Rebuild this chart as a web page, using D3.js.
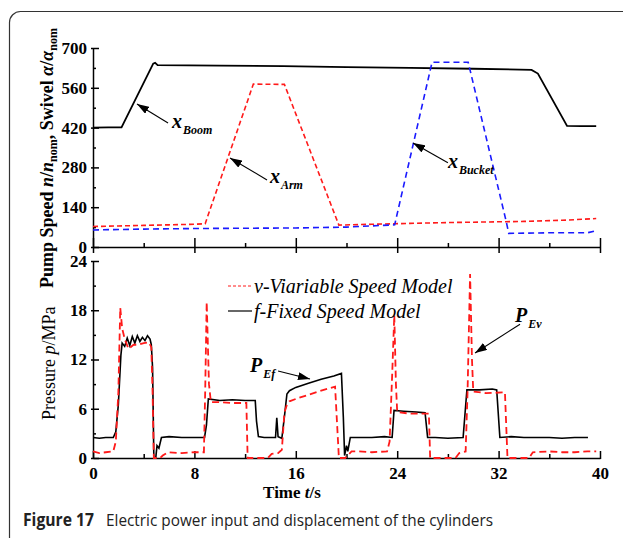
<!DOCTYPE html>
<html>
<head>
<meta charset="utf-8">
<script src="https://cdn.jsdelivr.net/npm/d3@7"></script>
<style>
  html, body { margin: 0; padding: 0; background: #fff; }
  svg { display: block; }
</style>
</head>
<body>
<svg id="chart" width="623" height="538"></svg>
<script>
// Top panel: cylinder displacements / swivel angle (time s, value)
const boomSeries = [[0,420],[1.2,421],[2.25,421],[4.75,645],[4.9,648],[5.1,640],[10,638],[15,636],[20,633],[25,630],[30,627],[34.6,623],[35.1,610],[37.4,426],[38.5,425],[39.7,425]];
const armSeries = [[0,72],[2,74],[4,76],[6,78],[8,80],[8.85,82],[12.65,573],[15.1,572],[19.4,77],[22,80],[25,83],[28,86],[31,88],[34,90],[37,94],[39.7,100]];
const bucketSeries = [[0,60],[4,63],[8,65],[12,66],[16,67],[20,70],[23.8,78],[26.75,650],[29.6,650],[32.6,90],[32.8,48],[36,50],[39,50],[39.6,56]];

// Bottom panel: pump pressure (time s, MPa)
const fixedPressure = [[0,2.5],[0.5,2.4],[1,2.5],[1.6,2.5],[1.8,3.2],[2.0,6.5],[2.2,12.5],[2.3,14.0],[2.5,13.6],[2.7,14.6],[2.9,13.7],[3.1,14.8],[3.3,14.0],[3.5,14.9],[3.7,14.2],[3.9,14.7],[4.1,14.3],[4.3,14.9],[4.5,14.5],[4.6,13.8],[4.7,11],[4.8,0],[4.95,0],[5.05,1.5],[5.2,1.2],[5.4,2.5],[6,2.6],[7,2.5],[8,2.5],[8.8,2.5],[8.95,4],[9.1,7.2],[10,7.0],[11,7.1],[12,7.0],[12.8,7.0],[12.9,4.5],[13.05,2.6],[13.5,2.5],[14.4,2.5],[14.5,4.9],[14.6,2.6],[14.9,2.4],[15.1,5.0],[15.3,7.8],[15.5,8.2],[16,8.6],[17,9.1],[18,9.6],[19,10.0],[19.6,10.3],[19.75,5],[19.85,0.3],[20,1.5],[20.1,0.8],[20.3,2.5],[21,2.5],[22,2.5],[23,2.6],[23.6,2.5],[23.75,5.8],[24.5,5.7],[25.5,5.6],[26.2,5.5],[26.4,2.5],[27,2.5],[28,2.4],[29.2,2.5],[29.5,8.3],[30.5,8.3],[31.5,8.4],[31.85,8.3],[32.1,2.5],[33,2.6],[34,2.5],[35,2.5],[36,2.5],[37,2.4],[38,2.5],[39.05,2.5]];
const variablePressure = [[0,0.8],[0.5,0.6],[1,0.7],[1.6,0.8],[1.8,2],[2.0,8],[2.15,18.3],[2.3,15.8],[2.5,14.5],[2.8,13.3],[3.2,13.8],[3.6,13.8],[4.0,14.0],[4.4,14.1],[4.6,13.5],[4.7,8],[4.8,0],[5.3,0],[5.5,0.3],[5.9,0.7],[7,0.6],[8,0.7],[8.75,0.7],[8.85,8],[8.97,19.0],[9.15,9],[9.3,6.8],[10,6.8],[11,6.7],[12.1,6.7],[12.2,0],[13.8,0],[14.1,0.5],[14.6,0.6],[14.9,1.0],[15.1,5.5],[15.3,6.5],[15.5,6.9],[16,7.2],[17,7.7],[18,8.2],[19.1,8.7],[19.4,0],[19.9,0],[20.4,0.8],[21,0.8],[22,0.7],[23.2,0.8],[23.4,2],[23.6,10],[23.77,17.4],[23.9,9],[24.0,5.6],[25,5.4],[26.5,5.4],[26.6,0],[28.6,0],[28.9,0.6],[29.4,0.8],[29.55,8],[29.75,22.4],[29.9,12],[30.0,8.1],[31,7.9],[32.5,8.0],[32.7,0],[34.4,0],[34.7,0.7],[36,0.8],[37,0.7],[38,0.7],[39,0.8],[39.7,0.8]];

// Axis ticks
const timeTicks = [0, 8, 16, 24, 32, 40];
const timeMinor = [4, 12, 20, 28, 36];
const speedTicks = [0, 140, 280, 420, 560, 700];
const speedMinor = [70, 210, 350, 490, 630];
const pressureTicks = [0, 6, 12, 18, 24];
const pressureMinor = [3, 9, 15, 21];

// Legend entries
const legendLabels = ["v-Viariable Speed Model", "f-Fixed Speed Model"];

const svg = d3.select("#chart");
const serif = "Liberation Serif, DejaVu Serif, serif";

// Outer frame (rounded, runs off the page at right/bottom)
svg.append("rect")
  .attr("x", 9.5).attr("y", 11.5)
  .attr("width", 660).attr("height", 580)
  .attr("rx", 11).attr("ry", 11)
  .attr("fill", "none").attr("stroke", "#333").attr("stroke-width", 1.2);

const x = d3.scaleLinear().domain([0, 40]).range([93, 600]);
const yTop = d3.scaleLinear().domain([0, 700]).range([247, 48]);
const yBot = d3.scaleLinear().domain([0, 24]).range([458, 261]);

// ---------- Top panel axes ----------
const topX = svg.append("g").attr("transform", `translate(0,${yTop(0)})`);
topX.append("g").call(d3.axisBottom(x).tickValues(timeTicks).tickSize(6).tickFormat("").tickSizeOuter(0))
  .call(g => g.selectAll(".tick line").attr("y1", -9));
topX.append("g").call(d3.axisTop(x).tickValues(timeMinor).tickSize(4).tickFormat("").tickSizeOuter(0))
  .call(g => g.select(".domain").remove());
topX.selectAll("path, line").attr("stroke", "#000").attr("stroke-width", 1.5);

const topY = svg.append("g").attr("transform", `translate(${x(0)},0)`);
topY.append("g").call(d3.axisLeft(yTop).tickValues(speedTicks).tickSize(2).tickSizeOuter(0).tickPadding(4)
    .tickFormat(d3.format("d")))
  .call(g => g.selectAll(".tick line").attr("x2", 6).attr("x1", -2));
topY.append("g").call(d3.axisRight(yTop).tickValues(speedMinor).tickSize(3).tickFormat("").tickSizeOuter(0))
  .call(g => g.select(".domain").remove());
topY.selectAll("path, line").attr("stroke", "#000").attr("stroke-width", 1.5);

// ---------- Bottom panel axes ----------
const botX = svg.append("g").attr("transform", `translate(0,${yBot(0)})`);
botX.append("g").call(d3.axisBottom(x).tickValues(timeTicks).tickSize(1).tickSizeOuter(0).tickPadding(8)
    .tickFormat(d3.format("d")))
  .call(g => g.selectAll(".tick line").attr("y1", -7));
botX.append("g").call(d3.axisTop(x).tickValues(timeMinor).tickSize(4).tickFormat("").tickSizeOuter(0))
  .call(g => g.select(".domain").remove());
botX.selectAll("path, line").attr("stroke", "#000").attr("stroke-width", 1.5);

const botY = svg.append("g").attr("transform", `translate(${x(0)},0)`);
botY.append("g").call(d3.axisLeft(yBot).tickValues(pressureTicks).tickSize(2).tickSizeOuter(0).tickPadding(4)
    .tickFormat(d3.format("d")))
  .call(g => g.selectAll(".tick line").attr("x2", 6).attr("x1", -2));
botY.append("g").call(d3.axisRight(yBot).tickValues(pressureMinor).tickSize(3).tickFormat("").tickSizeOuter(0))
  .call(g => g.select(".domain").remove());
botY.selectAll("path, line").attr("stroke", "#000").attr("stroke-width", 1.5);

svg.selectAll(".tick text")
  .attr("font-family", serif).attr("font-size", 17).attr("font-weight", "bold").attr("fill", "#000");

// ---------- Lines ----------
const lineTop = d3.line().x(d => x(d[0])).y(d => yTop(d[1]));
const lineBot = d3.line().x(d => x(d[0])).y(d => yBot(d[1]));

svg.append("path").datum(boomSeries).attr("d", lineTop)
  .attr("fill", "none").attr("stroke", "#000").attr("stroke-width", 1.8);
svg.append("path").datum(armSeries).attr("d", lineTop)
  .attr("fill", "none").attr("stroke", "#ff1a1a").attr("stroke-width", 1.6).attr("stroke-dasharray", "5,3");
svg.append("path").datum(bucketSeries).attr("d", lineTop)
  .attr("fill", "none").attr("stroke", "#1a1aff").attr("stroke-width", 1.6).attr("stroke-dasharray", "6,4");

svg.append("path").datum(fixedPressure).attr("d", lineBot)
  .attr("fill", "none").attr("stroke", "#000").attr("stroke-width", 1.6);
svg.append("path").datum(variablePressure).attr("d", lineBot)
  .attr("fill", "none").attr("stroke", "#ff1a1a").attr("stroke-width", 1.8).attr("stroke-dasharray", "7,4");

// ---------- Annotations ----------
svg.append("defs").append("marker")
  .attr("id", "head").attr("viewBox", "0 0 12 8").attr("refX", 12).attr("refY", 4)
  .attr("markerWidth", 12).attr("markerHeight", 8).attr("markerUnits", "userSpaceOnUse")
  .attr("orient", "auto")
  .append("path").attr("d", "M0,0 L12,4 L0,8 Z").attr("fill", "#000");

// [tail t, tail v, tip t, tip v, label t, label v, main, sub]
const topNotes = [
  [5.92, 436, 3.47, 503, 6.23, 419, "x", "Boom"],
  [13.73, 236, 10.81, 313, 13.96, 225, "x", "Arm"],
  [28.0, 296, 25.25, 366, 28.0, 278, "x", "Bucket"]
];
const botNotes = [
  [14.6, 10.6, 17.12, 9.62, 12.39, 10.48, "P", "Ef"],
  [33.69, 16.3, 30.14, 12.8, 33.29, 16.57, "P", "Ev"]
];

function drawNotes(notes, yScale) {
  notes.forEach(n => {
    svg.append("line")
      .attr("x1", x(n[0])).attr("y1", yScale(n[1]))
      .attr("x2", x(n[2])).attr("y2", yScale(n[3]))
      .attr("stroke", "#000").attr("stroke-width", 1.1)
      .attr("marker-end", "url(#head)");
    const t = svg.append("text")
      .attr("x", x(n[4])).attr("y", yScale(n[5]))
      .attr("font-family", serif).attr("font-style", "italic").attr("font-weight", "bold")
      .attr("font-size", 20).attr("fill", "#000");
    t.append("tspan").text(n[6]);
    t.append("tspan").attr("font-size", 12).attr("dy", 6).attr("dx", 1).text(n[7]);
  });
}
drawNotes(topNotes, yTop);
drawNotes(botNotes, yBot);

// ---------- Legend ----------
const legend = svg.append("g").attr("transform", "translate(228,286)");
legendLabels.forEach((label, i) => {
  const row = legend.append("g").attr("transform", `translate(0,${i * 25})`);
  row.append("line").attr("x1", 0).attr("x2", 24).attr("y1", 0).attr("y2", 0)
    .attr("stroke", i === 0 ? "#ff1a1a" : "#000").attr("stroke-width", i === 0 ? 1 : 1.2)
    .attr("stroke-dasharray", i === 0 ? "3,2" : null);
  row.append("text").attr("x", 26).attr("y", 7)
    .attr("font-family", serif).attr("font-style", "italic").attr("font-size", 20)
    .attr("fill", "#000").text(label);
});

// ---------- Axis titles ----------
const topTitle = svg.append("text")
  .attr("transform", "translate(53,288) rotate(-90)")
  .attr("text-anchor", "start")
  .attr("font-family", serif).attr("font-weight", "bold").attr("font-size", 18).attr("fill", "#000");
topTitle.append("tspan").text("Pump Speed ");
topTitle.append("tspan").attr("font-style", "italic").text("n");
topTitle.append("tspan").text("/");
topTitle.append("tspan").attr("font-style", "italic").text("n");
topTitle.append("tspan").attr("font-size", 12).attr("dy", 4).text("nom");
topTitle.append("tspan").attr("dy", -4).text(", Swivel ");
topTitle.append("tspan").attr("font-style", "italic").text("α");
topTitle.append("tspan").text("/");
topTitle.append("tspan").attr("font-style", "italic").text("α");
topTitle.append("tspan").attr("font-size", 12).attr("dy", 4).text("nom");

const botTitle = svg.append("text")
  .attr("transform", "translate(55,420) rotate(-90)")
  .attr("text-anchor", "start")
  .attr("font-family", serif).attr("font-size", 18).attr("fill", "#000");
botTitle.append("tspan").text("Pressure ");
botTitle.append("tspan").attr("font-style", "italic").text("p");
botTitle.append("tspan").text("/MPa");

const xTitle = svg.append("text")
  .attr("x", 292).attr("y", 498).attr("text-anchor", "middle")
  .attr("font-family", serif).attr("font-weight", "bold").attr("font-size", 17).attr("fill", "#000");
xTitle.append("tspan").text("Time ");
xTitle.append("tspan").attr("font-style", "italic").text("t");
xTitle.append("tspan").text("/s");

// ---------- Caption ----------
const sans = "Open Sans, Noto Sans, sans-serif";
svg.append("text").attr("x", 23).attr("y", 526)
  .attr("font-family", sans).attr("font-weight", "bold").attr("font-size", 17).attr("fill", "#222")
  .attr("textLength", 71).attr("lengthAdjust", "spacingAndGlyphs")
  .text("Figure 17");
svg.append("text").attr("x", 106).attr("y", 526)
  .attr("font-family", sans).attr("font-size", 17).attr("fill", "#222")
  .attr("textLength", 387).attr("lengthAdjust", "spacingAndGlyphs")
  .text("Electric power input and displacement of the cylinders");
</script>
</body>
</html>
